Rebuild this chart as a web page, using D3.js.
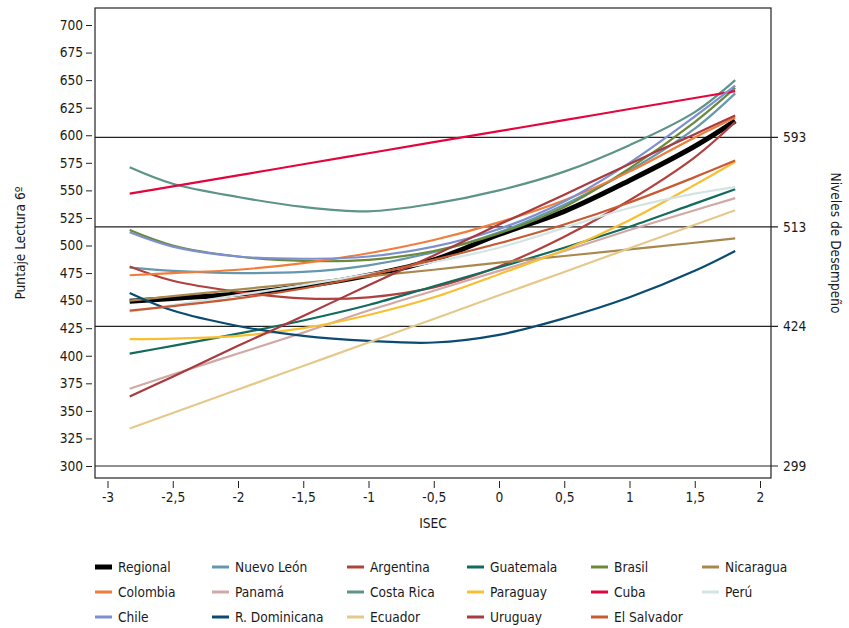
<!DOCTYPE html>
<html>
<head>
<meta charset="utf-8">
<script src="https://cdn.jsdelivr.net/npm/d3@7"></script>
<style>
  html, body { margin: 0; padding: 0; background: #fff; }
  svg text { font-family: "DejaVu Sans Condensed", "DejaVu Sans", sans-serif; font-size: 13.6px; fill: #1a1a1a; }
</style>
</head>
<body>
<svg id="chart" width="849" height="628"></svg>
<script>
// ---- Data ----
const isecPoints = [-2.83, -2.5, -2, -1.5, -1, -0.5, 0, 0.5, 1, 1.5, 1.81];

const regional     = [449.5, 452, 456, 463, 473, 487, 510, 531, 559, 590, 613];
const nuevoLeon    = [480, 477, 475, 476, 482, 494, 512, 537, 568, 606, 638];
const argentina    = [481, 468, 458, 452, 453, 462, 481, 508, 541, 580, 612];
const guatemala    = [402, 409, 420, 432, 446, 463, 480, 498, 517, 538, 551];
const brasil       = [514, 500, 490, 486, 487, 495, 511, 535, 570, 612, 643];
const nicaragua    = [450, 454, 460, 466, 472, 478, 484.5, 490.5, 496.5, 502.5, 506.5];
const colombia     = [473, 475, 478, 484, 493, 505, 521, 541, 567, 598, 616];
const panama       = [370, 383, 402, 421, 441, 459, 477, 495, 514, 532, 543];
const costaRica    = [571, 556, 544, 535, 531, 538, 550, 567, 591, 621, 650];
const paraguay     = [415, 415.5, 418, 425, 437, 453, 474, 496, 523, 555, 576];
const cuba         = [547, 553.6, 563.6, 573.7, 583.7, 593.7, 603.7, 613.7, 623.8, 633.8, 640];
const peru         = [440, 446, 455, 464, 474, 485, 498, 516, 534, 547, 553];
const chile        = [512, 499, 490, 488, 490, 499, 515, 540, 575, 617, 645];
const rDominicana  = [457, 441, 427, 418, 413.5, 412, 419, 434, 453, 477, 495];
const ecuador      = [334, 348, 369.4, 390.7, 412, 433.4, 454.8, 476, 497.5, 518.8, 532];
const uruguay      = [363, 381, 409, 436, 464, 491, 519, 546, 574, 601, 618];
const elSalvador   = [441, 445, 452, 461, 473, 487, 502, 519, 539, 562, 577];

const seriesNames = ["Regional", "Nuevo León", "Argentina", "Guatemala", "Brasil", "Nicaragua",
                     "Colombia", "Panamá", "Costa Rica", "Paraguay", "Cuba", "Perú",
                     "Chile", "R. Dominicana", "Ecuador", "Uruguay", "El Salvador"];
const seriesValues = [regional, nuevoLeon, argentina, guatemala, brasil, nicaragua,
                      colombia, panama, costaRica, paraguay, cuba, peru,
                      chile, rDominicana, ecuador, uruguay, elSalvador];
const seriesColors = ["#000000", "#6598AE", "#B0413E", "#136B5E", "#6A8A3A", "#A9884E",
                      "#F07D3A", "#D0A8A6", "#5E9488", "#F8BF30", "#E2063E", "#D4E3E3",
                      "#7D8FCF", "#0B4B72", "#E5C98B", "#A93A3D", "#C85A33"];

const xTicks = [-3, -2.5, -2, -1.5, -1, -0.5, 0, 0.5, 1, 1.5, 2];
const yTicks = [300, 325, 350, 375, 400, 425, 450, 475, 500, 525, 550, 575, 600, 625, 650, 675, 700];
const levelTicks = [299, 424, 513, 593];

// ---- Layout ----
const svg = d3.select("#chart");
const frame = { left: 95, right: 771, top: 8, bottom: 478 };

const x = d3.scaleLinear().domain([-3, 2]).range([107.5, 760]);
const y = d3.scaleLinear().domain([300, 700]).range([466, 25]);
// right axis (Niveles de Desempeño) on its own scale
const yR = d3.scaleLinear().domain([299, 693.6]).range([466, 25]);

const fmt = d => String(d).replace(".", ",");

// frame
svg.append("rect")
  .attr("x", frame.left).attr("y", frame.top)
  .attr("width", frame.right - frame.left).attr("height", frame.bottom - frame.top)
  .attr("fill", "none").attr("stroke", "#222").attr("stroke-width", 1.2);

// level lines
svg.append("g").selectAll("line").data(levelTicks).join("line")
  .attr("x1", frame.left).attr("x2", frame.right + 7)
  .attr("y1", d => yR(d)).attr("y2", d => yR(d))
  .attr("stroke", "#222").attr("stroke-width", 1.2);

svg.append("g").selectAll("text").data(levelTicks).join("text")
  .attr("x", frame.right + 12).attr("y", d => yR(d))
  .attr("dy", "0.35em").text(d => d);

// left axis
const yAxis = svg.append("g").attr("transform", `translate(${frame.left - 3},0)`)
  .call(d3.axisLeft(y).tickValues(yTicks).tickSize(6).tickPadding(3).tickFormat(d => d));
yAxis.select(".domain").remove();
yAxis.selectAll("line").attr("stroke", "#222");
yAxis.selectAll("text").style("font-size", "13.6px").attr("fill", "#1a1a1a");

// bottom axis
const xAxis = svg.append("g").attr("transform", `translate(0,${frame.bottom + 3})`)
  .call(d3.axisBottom(x).tickValues(xTicks).tickSize(7).tickPadding(4).tickFormat(fmt));
xAxis.select(".domain").remove();
xAxis.selectAll("line").attr("stroke", "#222");
xAxis.selectAll("text").style("font-size", "13.6px").attr("fill", "#1a1a1a");

// axis titles
svg.append("text").attr("x", (frame.left + frame.right) / 2).attr("y", 528)
  .attr("text-anchor", "middle").text("ISEC");
svg.append("text").attr("transform", `translate(25,${(frame.top + frame.bottom) / 2}) rotate(-90)`)
  .attr("text-anchor", "middle").text("Puntaje Lectura 6º");
svg.append("text").attr("transform", `translate(831,${(frame.top + frame.bottom) / 2}) rotate(90)`)
  .attr("text-anchor", "middle").text("Niveles de Desempeño");

// lines
const line = d3.line()
  .x((d, i) => x(isecPoints[i]))
  .y(d => y(d))
  .curve(d3.curveCatmullRom.alpha(0.5));

const g = svg.append("g");
seriesValues.forEach((vals, k) => {
  g.append("path")
    .attr("d", line(vals))
    .attr("fill", "none")
    .attr("stroke", seriesColors[k])
    .attr("stroke-width", k === 0 ? 5 : 2.2)
    .attr("stroke-linejoin", "round");
});

// legend
const legX = [95, 212, 347, 467, 591, 702];
const legY = [567, 592, 617];
seriesNames.forEach((name, k) => {
  const col = k % 6, row = Math.floor(k / 6);
  const lg = svg.append("g").attr("transform", `translate(${legX[col]},${legY[row]})`);
  lg.append("line").attr("x1", 0).attr("x2", 17).attr("y1", 0).attr("y2", 0)
    .attr("stroke", seriesColors[k]).attr("stroke-width", k === 0 ? 5 : 3);
  lg.append("text").attr("x", 23).attr("y", 0).attr("dy", "0.35em").text(name);
});
</script>
</body>
</html>
